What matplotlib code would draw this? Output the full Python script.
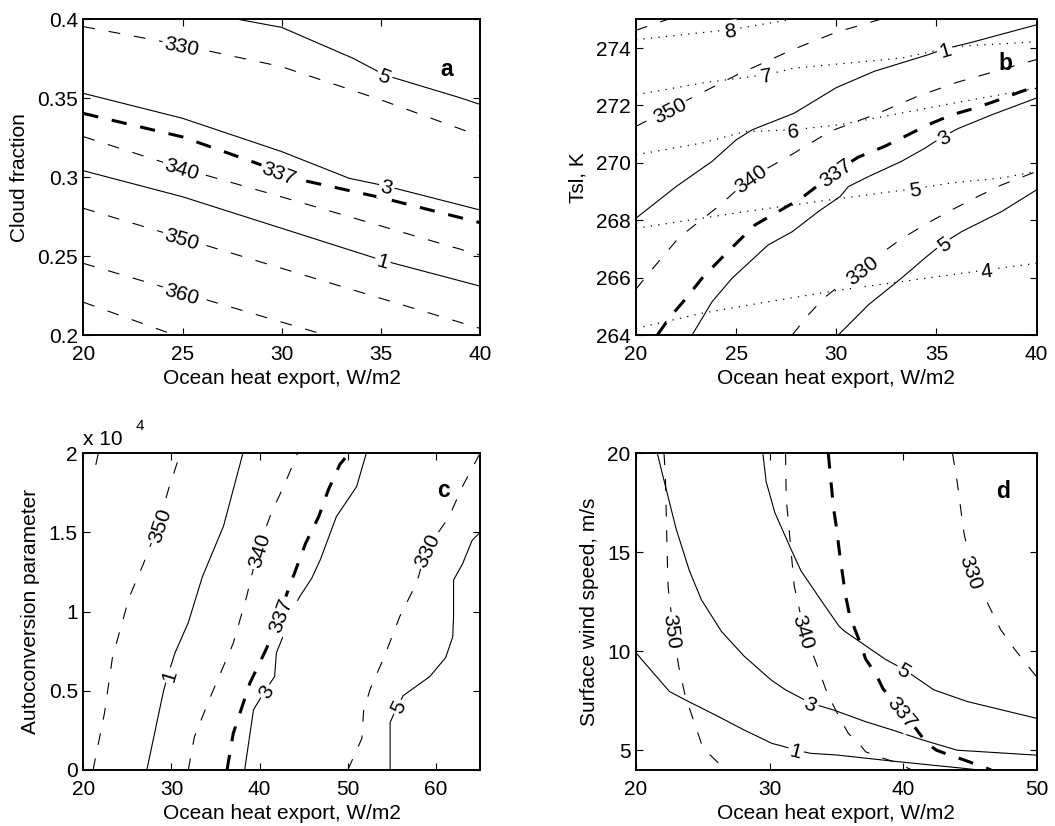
import numpy as np
import matplotlib
matplotlib.use("Agg")
import matplotlib.pyplot as plt

plt.rcParams['font.family'] = ['Liberation Sans', 'DejaVu Sans']
plt.rcParams['font.size'] = 15
plt.rcParams['lines.scale_dashes'] = False

# ---- panel a: cloud fraction vs ocean heat export ----
a_330_x = [20, 25, 30, 35, 40]
a_330_y = [0.3954, 0.3835, 0.370, 0.349, 0.326]
a_5_x = [27.8, 30, 33.6, 35.2, 39, 40]
a_5_y = [0.4, 0.3949, 0.3753, 0.3647, 0.3503, 0.3461]
a_3_x = [20, 25, 30, 33.4, 35.3, 40]
a_3_y = [0.3531, 0.3373, 0.3162, 0.2993, 0.2943, 0.2792]
a_337_x = [20, 25, 28.7, 31, 35.1, 40]
a_337_y = [0.3404, 0.3255, 0.309, 0.2982, 0.2868, 0.2712]
a_340_x = [20, 25, 30, 40]
a_340_y = [0.3257, 0.3055, 0.2875, 0.2507]
a_1_x = [20, 25, 30, 35, 40]
a_1_y = [0.3041, 0.2876, 0.2676, 0.2476, 0.231]
a_350_x = [20, 40]
a_350_y = [0.2803, 0.2042]
a_360_x = [20, 32.2]
a_360_y = [0.2454, 0.2]
a_370_x = [20, 24.6]
a_370_y = [0.2208, 0.2]

# ---- panel b: Tsl vs ocean heat export ----
b_8_x = [20, 24.7, 27.8]
b_8_y = [274.29, 274.64, 275.0]
b_7_x = [20, 23.3, 26.5, 27.9, 30.2, 33.25, 35.9, 40]
b_7_y = [272.37, 272.78, 273.07, 273.3, 273.45, 273.65, 274.05, 274.22]
b_6_x = [20, 23.3, 25.45, 27.85, 30.2, 33.0, 36.0, 40]
b_6_y = [270.28, 270.69, 271.09, 271.15, 271.33, 271.7, 272.1, 272.6]
b_5_x = [20, 23.3, 25.45, 30.1, 33.9, 35.75, 38.25, 40]
b_5_y = [267.72, 268.07, 268.3, 268.75, 269.1, 269.3, 269.47, 269.7]
b_4_x = [20, 23.3, 26.6, 30.0, 33.25, 37.5, 40]
b_4_y = [264.23, 264.76, 265.16, 265.55, 265.86, 266.27, 266.5]
b_360_x = [20, 21.6]
b_360_y = [274.62, 275.0]
b_350_x = [20, 22.6, 25, 27.8, 30, 32.2]
b_350_y = [271.27, 272.2, 273.05, 273.94, 274.55, 275.0]
b_1_x = [20, 22, 23.8, 25, 25.8, 27.9, 30.0, 31.9, 34.6, 35.4, 36.6, 40]
b_1_y = [268.07, 269.17, 270.05, 270.8, 271.15, 271.73, 272.62, 273.19, 273.77, 273.97, 274.17, 274.81]
b_340_x = [20, 20.7, 21.3, 22.15, 23.15, 24.15, 25.7, 27.8, 29.7, 32, 34, 36, 40]
b_340_y = [265.6, 266.2, 266.7, 267.4, 267.95, 268.5, 269.47, 270.3, 271.1, 271.7, 272.3, 272.8, 273.6]
b_337_x = [21.07, 21.65, 22.5, 23.3, 24.1, 25.1, 25.95, 27.1, 28.26, 29.25, 29.93,
           31.1, 32.4, 33.25, 34.6, 35.75, 36.9, 37.9, 39.25, 40]
b_337_y = [264, 264.58, 265.28, 265.98, 266.56, 267.26, 267.84, 268.3, 268.77, 269.3, 269.68,
           270.2, 270.57, 270.86, 271.33, 271.67, 271.9, 272.14, 272.49, 272.66]
b_3_x = [22.8, 23.8, 24.8, 26.6, 27.8, 29.1, 30.2, 30.6, 31.6, 33.25, 34.4, 35.33, 36.1, 37.75, 40]
b_3_y = [264, 265.16, 265.98, 267.14, 267.6, 268.3, 268.83, 269.17, 269.52, 270.05, 270.5,
         270.92, 271.2, 271.67, 272.26]
b_330_x = [27.8, 28.6, 29.4, 30.4, 31.25, 32.25, 33.25, 34.4, 35.6, 36.9, 38.25, 40]
b_330_y = [264, 264.7, 265.3, 265.85, 266.3, 266.85, 267.35, 267.84, 268.3, 268.77, 269.23, 269.7]
b_5s_x = [30.1, 31.6, 33.25, 34.4, 35.33, 36.25, 38.25, 40]
b_5s_y = [264, 265.05, 265.98, 266.67, 267.2, 267.6, 268.3, 269.06]

# ---- panel c: autoconversion parameter (x 10^4) vs ocean heat export ----
c_scale = 1e4
c_360_x = [21.7, 21.3]
c_360_y = [2.0, 1.9]
c_350_x = [21.1, 22.4, 23.3, 25.2, 26.8, 28.5, 29.7, 31.0]
c_350_y = [0, 0.36, 0.71, 1.09, 1.3, 1.55, 1.78, 2.0]
c_1_x = [27.2, 28.3, 29.1, 29.6, 30.4, 31.9, 33.5, 35.9, 38.1]
c_1_y = [0, 0.29, 0.5, 0.6, 0.74, 0.93, 1.22, 1.54, 2.0]
c_340_x = [31.9, 32.6, 34.4, 37.0, 38.5, 39.8, 41.3, 42.8, 44.3]
c_340_y = [0, 0.21, 0.46, 0.80, 1.09, 1.39, 1.62, 1.80, 2.0]
c_337_x = [36.3, 37.0, 38.9, 40.8, 42.2, 43.4, 45.2, 46.7, 47.8, 49.1, 49.7]
c_337_y = [0, 0.23, 0.55, 0.77, 0.98, 1.16, 1.43, 1.60, 1.77, 1.93, 1.97]
c_3_x = [38.3, 39.3, 40.6, 41.7, 41.9, 42.7, 43.4, 44.6, 45.9, 46.9, 48.7, 51.0, 52.1]
c_3_y = [0, 0.38, 0.5, 0.59, 0.74, 0.85, 0.98, 1.1, 1.21, 1.33, 1.6, 1.79, 2.0]
c_330_x = [50.0, 51.6, 51.8, 52.6, 54.1, 55.9, 57.8, 58.9, 61.5, 63.0, 65.0]
c_330_y = [0, 0.2, 0.38, 0.52, 0.71, 0.97, 1.18, 1.39, 1.60, 1.79, 2.0]
c_5_x = [54.8, 54.8, 55.6, 56.3, 59.3, 61.1, 61.9, 62.0, 62.0, 63.0, 64.1, 65.0]
c_5_y = [0, 0.30, 0.40, 0.47, 0.59, 0.71, 0.84, 0.97, 1.20, 1.30, 1.45, 1.5]

# ---- panel d: surface wind speed vs ocean heat export ----
d_1_x = [20, 22.5, 23.7, 26.2, 28.1, 30.2, 30.9, 32.0, 33.1, 35.0, 39.2, 44.3, 45.7]
d_1_y = [9.92, 7.97, 7.54, 6.69, 6.02, 5.34, 5.22, 5.0, 4.84, 4.76, 4.45, 4.1, 4.0]
d_3_x = [21.6, 22.0, 23.0, 24.0, 24.9, 26.4, 28.1, 30.1, 31.2, 33.1, 34.8, 37.2, 39.2, 41.5, 44.05, 50]
d_3_y = [20.0, 18.9, 16.2, 14.07, 12.6, 11.0, 9.75, 8.56, 8.05, 7.37, 7.03, 6.44, 6.02, 5.51, 5.0, 4.75]
d_5_x = [29.5, 29.75, 30.4, 31.6, 32.35, 33.8, 35.2, 35.6, 38.7, 40.1, 42.3, 44.8, 50]
d_5_y = [20, 18.56, 17.0, 15.17, 14.07, 12.63, 11.27, 11.02, 9.58, 9.07, 8.05, 7.46, 6.61]
d_350_x = [22.1, 22.2, 22.3, 22.4, 22.8, 23.2, 23.7, 24.3, 24.9, 25.3, 26.7]
d_350_y = [20, 18.9, 16.0, 13.3, 11.0, 9.24, 7.71, 6.53, 5.34, 4.92, 4.02]
d_340_x = [31.2, 31.25, 31.6, 31.85, 32.6, 33.5, 34.2, 34.6, 35.2, 35.9, 36.7, 37.2, 38.2, 39.4, 40.6]
d_340_y = [20, 17.7, 15.17, 13.3, 11.0, 9.4, 8.1, 7.5, 6.7, 5.85, 5.34, 4.92, 4.66, 4.4, 4.02]
d_337_x = [34.4, 34.6, 34.8, 35.0, 35.3, 35.7, 36.0, 36.8, 37.2, 37.6, 38.1, 38.5, 40.0,
           41.4, 41.8, 42.5, 43.5, 44.6, 46.6]
d_337_y = [20, 18.56, 17.2, 16.3, 14.66, 12.8, 11.8, 10.4, 9.6, 9.2, 8.66, 8.1, 6.95,
           5.69, 5.34, 5.0, 4.75, 4.5, 4.0]
d_330_x = [43.7, 44.05, 44.55, 45.2, 46.3, 47.3, 48.35, 50]
d_330_y = [20, 18.56, 16.0, 14.0, 12.46, 11.1, 10.1, 8.7]

styles = {
    'solid': dict(color='k', lw=0.8, ls='-'),
    'dash': dict(color='k', lw=0.8, ls=(0, (8.5, 10))),
    'bold': dict(color='k', lw=2.2, ls=(0, (11, 10))),
    'dot': dict(color='k', lw=0.9, ls=(0, (0.9, 4.5))),
}


def label_on_line(ax, xs, ys, x0, y0, txt):
    # put a contour label on the line, turned along its local direction
    pts = ax.transData.transform(np.column_stack([xs, ys]))
    p0 = ax.transData.transform((x0, y0))
    seg = np.diff(pts, axis=0)
    seglen = np.hypot(seg[:, 0], seg[:, 1])
    s = np.concatenate([[0], np.cumsum(seglen)])
    best_d, s0 = None, 0
    for i in range(len(seg)):
        t = np.clip(np.dot(p0 - pts[i], seg[i]) / seglen[i] ** 2, 0, 1)
        d = np.hypot(*(p0 - (pts[i] + t * seg[i])))
        if best_d is None or d < best_d:
            best_d, s0 = d, s[i] + t * seglen[i]
    a = [np.interp(s0 - 12, s, pts[:, 0]), np.interp(s0 - 12, s, pts[:, 1])]
    b = [np.interp(s0 + 12, s, pts[:, 0]), np.interp(s0 + 12, s, pts[:, 1])]
    ang = np.degrees(np.arctan2(b[1] - a[1], b[0] - a[0]))
    if ang > 90:
        ang -= 180
    if ang <= -90:
        ang += 180
    ax.text(x0, y0, txt, rotation=ang, rotation_mode='anchor', ha='center',
            va='center_baseline', fontsize=15, zorder=4,
            bbox=dict(boxstyle='square,pad=0.1', fc='white', ec='none'))


def setup(ax, xlim, ylim, xticks, xlabels, yticks, ylabels, ylabel, letter, lpos):
    ax.set_xlim(xlim)
    ax.set_ylim(ylim)
    ax.set_xticks(xticks)
    ax.set_xticklabels(xlabels)
    ax.set_yticks(yticks)
    ax.set_yticklabels(ylabels)
    ax.tick_params(direction='in', top=True, right=True, length=5, width=0.8,
                   labelsize=15)
    ax.tick_params(axis='x', pad=7)
    ax.tick_params(axis='y', pad=4)
    for sp in ax.spines.values():
        sp.set_linewidth(1.4)
    ax.set_xlabel('Ocean heat export, W/m2', fontsize=15, labelpad=4)
    ax.set_ylabel(ylabel, fontsize=15, labelpad=6)
    ax.text(lpos[0], lpos[1], letter, transform=ax.transAxes, fontsize=16.5,
            fontweight='bold', ha='center', va='center')


fig = plt.figure(figsize=(10.55, 8.26), dpi=100)
ax_a = fig.add_axes([0.0790, 0.5944, 0.3760, 0.3822])
ax_b = fig.add_axes([0.6028, 0.5944, 0.3798, 0.3822])
ax_c = fig.add_axes([0.0790, 0.0678, 0.3760, 0.3834])
ax_d = fig.add_axes([0.6028, 0.0678, 0.3798, 0.3834])

# panel a
setup(ax_a, (20, 40), (0.2, 0.4), [20, 25, 30, 35, 40], ['20', '25', '30', '35', '40'],
      [0.2, 0.25, 0.3, 0.35, 0.4], ['0.2', '0.25', '0.3', '0.35', '0.4'],
      'Cloud fraction', 'a', (0.916, 0.84))
lines_a = [
    (a_330_x, a_330_y, 'dash', '330', (24.96, 0.3835)),
    (a_5_x, a_5_y, 'solid', '5', (35.2, 0.3647)),
    (a_3_x, a_3_y, 'solid', '3', (35.3, 0.2943)),
    (a_337_x, a_337_y, 'bold', '337', (29.9, 0.3034)),
    (a_340_x, a_340_y, 'dash', '340', (24.96, 0.3057)),
    (a_1_x, a_1_y, 'solid', '1', (35.1, 0.2472)),
    (a_350_x, a_350_y, 'dash', '350', (24.96, 0.2613)),
    (a_360_x, a_360_y, 'dash', '360', (24.96, 0.2270)),
    (a_370_x, a_370_y, 'dash', None, None),
]

# panel b
setup(ax_b, (20, 40), (264, 275), [20, 25, 30, 35, 40], ['20', '25', '30', '35', '40'],
      [264, 266, 268, 270, 272, 274], ['264', '266', '268', '270', '272', '274'],
      'Tsl, K', 'b', (0.921, 0.861))
lines_b = [
    (b_8_x, b_8_y, 'dot', '8', (24.7, 274.64)),
    (b_7_x, b_7_y, 'dot', '7', (26.5, 273.07)),
    (b_6_x, b_6_y, 'dot', '6', (27.85, 271.15)),
    (b_5_x, b_5_y, 'dot', '5', (33.9, 269.1)),
    (b_4_x, b_4_y, 'dot', '4', (37.5, 266.27)),
    (b_360_x, b_360_y, 'dash', None, None),
    (b_350_x, b_350_y, 'dash', '350', (21.65, 271.85)),
    (b_1_x, b_1_y, 'solid', '1', (35.4, 273.97)),
    (b_340_x, b_340_y, 'dash', '340', (25.7, 269.47)),
    (b_337_x, b_337_y, 'bold', '337', (29.93, 269.68)),
    (b_3_x, b_3_y, 'solid', '3', (35.33, 270.92)),
    (b_330_x, b_330_y, 'dash', '330', (31.25, 266.3)),
    (b_5s_x, b_5s_y, 'solid', '5', (35.33, 267.2)),
]

# panel c
setup(ax_c, (20, 65), (0, 2 * c_scale), [20, 30, 40, 50, 60], ['20', '30', '40', '50', '60'],
      [0, 0.5 * c_scale, 1 * c_scale, 1.5 * c_scale, 2 * c_scale],
      ['0', '0.5', '1', '1.5', '2'],
      'Autoconversion parameter', 'c', (0.908, 0.884))
ax_c.text(0.0, 1.025, 'x 10', transform=ax_c.transAxes, fontsize=15, ha='left', va='baseline')
ax_c.text(0.143, 1.075, '4', transform=ax_c.transAxes, fontsize=11, ha='center', va='baseline')
lines_c = [
    (c_360_x, c_360_y, 'dash', None, None),
    (c_350_x, c_350_y, 'dash', '350', (28.5, 1.55)),
    (c_1_x, c_1_y, 'solid', '1', (29.6, 0.6)),
    (c_340_x, c_340_y, 'dash', '340', (39.8, 1.39)),
    (c_337_x, c_337_y, 'bold', '337', (42.2, 0.98)),
    (c_3_x, c_3_y, 'solid', '3', (40.6, 0.5)),
    (c_330_x, c_330_y, 'dash', '330', (58.9, 1.39)),
    (c_5_x, c_5_y, 'solid', '5', (55.6, 0.40)),
]
lines_c = [(x, [v * c_scale for v in y], st, t,
            None if p is None else (p[0], p[1] * c_scale)) for x, y, st, t, p in lines_c]

# panel d
setup(ax_d, (20, 50), (4, 20), [20, 30, 40, 50], ['20', '30', '40', '50'],
      [5, 10, 15, 20], ['5', '10', '15', '20'],
      'Surface wind speed, m/s', 'd', (0.917, 0.879))
lines_d = [
    (d_1_x, d_1_y, 'solid', '1', (32.0, 5.02)),
    (d_3_x, d_3_y, 'solid', '3', (33.1, 7.37)),
    (d_5_x, d_5_y, 'solid', '5', (40.1, 9.07)),
    (d_350_x, d_350_y, 'dash', '350', (22.8, 11.0)),
    (d_340_x, d_340_y, 'dash', '340', (32.6, 11.0)),
    (d_337_x, d_337_y, 'bold', '337', (40.0, 6.95)),
    (d_330_x, d_330_y, 'dash', '330', (45.2, 14.0)),
]

for ax, lines in [(ax_a, lines_a), (ax_b, lines_b), (ax_c, lines_c), (ax_d, lines_d)]:
    for xs, ys, st, txt, pos in lines:
        ax.plot(xs, ys, **styles[st], zorder=2)
    for xs, ys, st, txt, pos in lines:
        if txt is not None:
            label_on_line(ax, xs, ys, pos[0], pos[1], txt)

fig.savefig('out.png', dpi=100)
